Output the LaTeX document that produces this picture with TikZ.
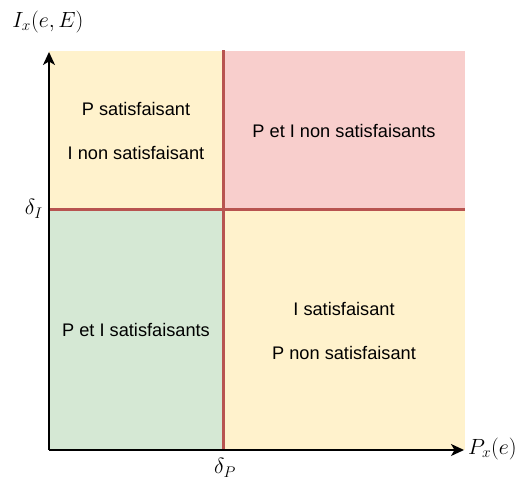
\RequirePackage{fix-cm}
\documentclass[tikz,border=0pt]{standalone}
\usepackage{fontspec}
\newfontfamily\labelfont{Liberation Sans}
\usetikzlibrary{arrows.meta}
\definecolor{okyellow}{HTML}{FFF2CC}
\definecolor{badpink}{HTML}{F8CECC}
\definecolor{goodgreen}{HTML}{D5E8D4}
\definecolor{splitred}{HTML}{B85450}
\tikzset{
  zonetext/.style={font=\labelfont\fontsize{18.2}{44}\selectfont, align=center, text=black},
  splitline/.style={draw=splitred, line width=3pt},
  axisline/.style={draw=black, line width=1.5pt, -{Stealth[length=13pt,width=12pt,inset=3.5pt]}},
  mathlabel/.style={font=\fontsize{22}{26}\selectfont, inner sep=0pt}
}
\begin{document}
\begin{tikzpicture}[x=1pt,y=1pt]
\useasboundingbox (0,0) rectangle (518,482);
% regions
\fill[okyellow] (49,272) rectangle (223,431);
\fill[badpink] (223,272) rectangle (465,431);
\fill[goodgreen] (49,32) rectangle (223,272);
\fill[okyellow] (223,32) rectangle (465,272);
% region texts
\node[zonetext] (tl) at (136,351.5) {P satisfaisant\\I non satisfaisant};
\node[zonetext] (tr) at (344,351.5) {P et I non satisfaisants};
\node[zonetext] (bl) at (136,152) {P et I satisfaisants};
\node[zonetext] (br) at (344,151) {I satisfaisant\\P non satisfaisant};
% split lines
\coordinate (vtop) at (223,432);
\coordinate (vbot) at (223,32);
\coordinate (hleft) at (49,272);
\coordinate (hright) at (465,272);
\draw[splitline] (vbot) -- (vtop);
\draw[splitline] (hleft) -- (hright);
% axes
\coordinate (O) at (49,32);
\coordinate (ytip) at (49,430);
\coordinate (xtip) at (464,32);
\draw[axisline] (O) -- (ytip);
\draw[axisline] (O) -- (xtip);
% axis labels
\node[mathlabel] (ylab) at (48,460) {$I_x(e,E)$};
\node[mathlabel, anchor=east] (dI) at (43,273) {$\delta_I$};
\node[mathlabel] (dP) at (225,14) {$\delta_P$};
\node[mathlabel, anchor=west] (xlab) at (468,33) {$P_x(e)$};
\end{tikzpicture}
\end{document}
